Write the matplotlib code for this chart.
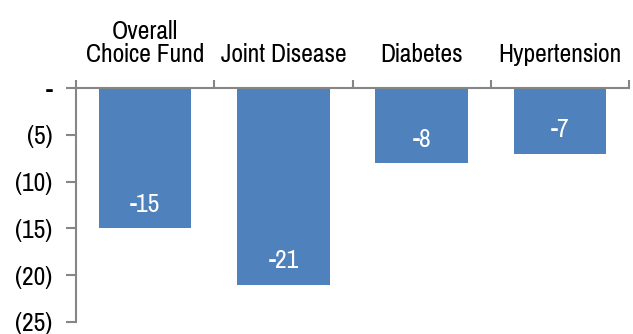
import matplotlib.pyplot as plt
from matplotlib.ticker import FixedLocator

# Data
categories = ["Overall\nChoice Fund", "Joint Disease", "Diabetes", "Hypertension"]
values = [-15, -21, -8, -7]
yticks = [0, -5, -10, -15, -20, -25]
ytick_labels = ["-", "(5)", "(10)", "(15)", "(20)", "(25)"]

plt.rcParams['font.family'] = ['Pragati Narrow', 'DejaVu Sans']

fig = plt.figure(figsize=(6.33, 3.34), dpi=100)
ax = fig.add_axes([0.12, 0.036, 0.874, 0.7005])

x = range(len(categories))
bars = ax.bar(x, values, width=0.67, color='#4F81BD')

for xi, v in zip(x, values):
    ax.annotate(str(v), (xi, v), xytext=(0, 17), textcoords='offset points',
                ha='center', va='center', color='white', fontsize=20)

ax.set_xlim(-0.5, len(categories) - 0.5)
ax.set_ylim(-25, 0)
ax.set_yticks(yticks)
ax.set_yticklabels(ytick_labels, fontsize=20)

ax.xaxis.tick_top()
ax.set_xticks(list(x))
ax.set_xticklabels(categories, fontsize=20, linespacing=1.0)
ax.xaxis.set_minor_locator(FixedLocator([i - 0.5 for i in range(len(categories) + 1)]))
ax.tick_params(axis='x', which='major', length=0, pad=16)
ax.tick_params(axis='x', which='minor', length=6, width=1.5, color='#868686', top=True)
ax.tick_params(axis='y', length=7, width=1.5, color='#868686', pad=10)

for s in ['right', 'bottom']:
    ax.spines[s].set_visible(False)
for s in ['left', 'top']:
    ax.spines[s].set_color('#868686')
    ax.spines[s].set_linewidth(1.5)

fig.savefig("out.png", dpi=100)
